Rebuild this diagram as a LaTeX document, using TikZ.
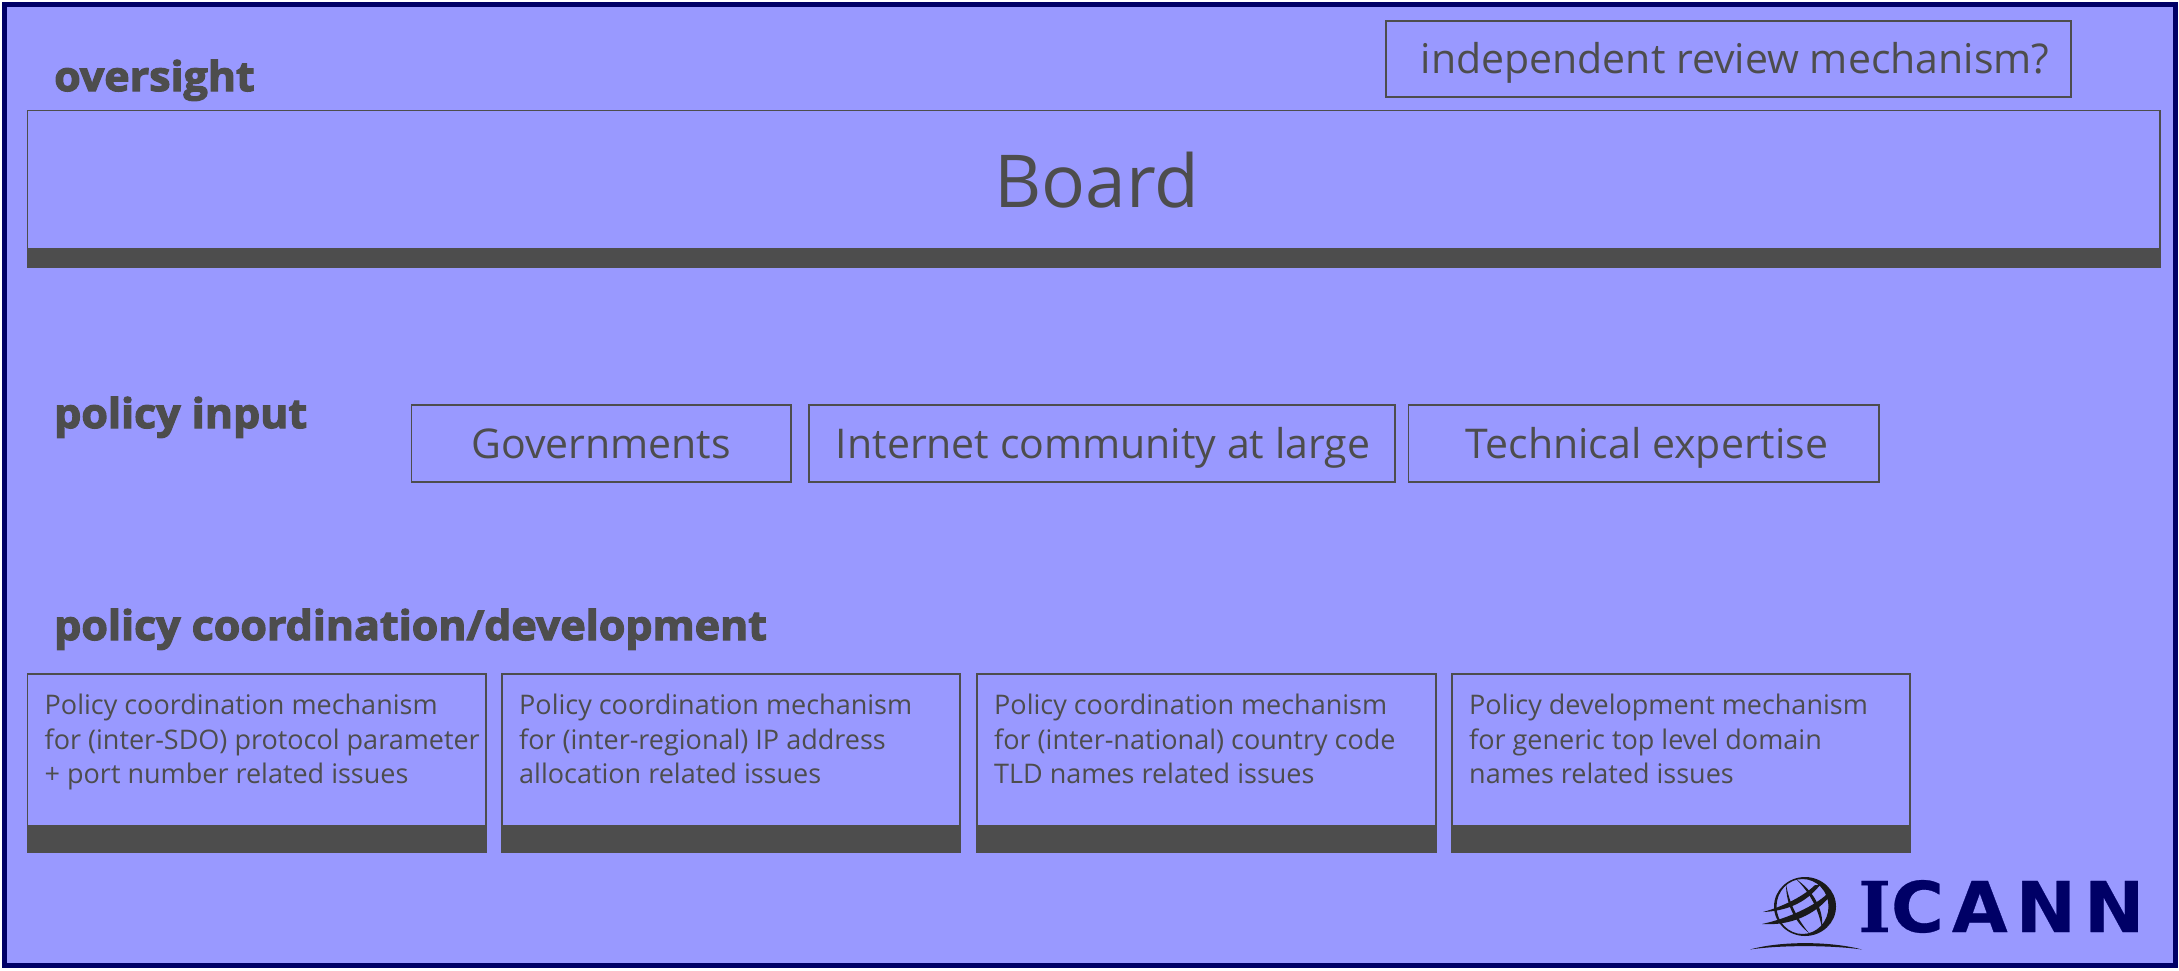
\documentclass[tikz,border=0pt]{standalone}
\usepackage{fontspec}
\setmainfont{Open Sans}
\newfontfamily\headfont{Open Sans}[BoldFeatures={FakeBold=3,FakeStretch=1.047}]
\newfontfamily\logofont{DejaVu Sans}[LetterSpace=11.5,BoldFeatures={FakeStretch=1.03,FakeBold=0.4}]
\newfontfamily\logoserif{DejaVu Serif}[BoldFeatures={FakeBold=0.4}]
\definecolor{bgblue}{HTML}{9999FF}
\definecolor{navyb}{HTML}{000066}
\definecolor{ink}{HTML}{4D4D4D}
\definecolor{globe}{HTML}{1A1A1A}
\tikzset{
 x=1pt,y=-1pt,
 box/.style={draw=ink,line width=1.1pt,fill=none},
 band/.style={fill=ink,draw=none},
 head/.style={anchor=base west,inner sep=0,font=\headfont\bfseries\fontsize{41}{41}\selectfont,text=ink},
 big/.style={inner sep=0,text=ink,anchor=base,font=\fontsize{41}{41}\selectfont},
 small/.style={anchor=north west,inner sep=0,text=ink,align=left,font=\fontsize{27}{34.5}\selectfont},
 glob/.style={fill=globe,draw=none}
}
\begin{document}
\begin{tikzpicture}
\useasboundingbox (0,0) rectangle (2179,970);
\fill[white] (0,0) rectangle (2179,970);
\draw[fill=bgblue,draw=navyb,line width=5pt] (4.5,4.5) rectangle (2175.5,965);
% headings
\node[head] (h1) at (54,91) {oversight};
\node[head] (h2) at (54,428) {policy input};
\node[head] (h3) at (54,640) {policy coordination/development};
% board
\fill[band] (27.5,248) rectangle (2160,267);
\draw[box] (27.5,110.5) rectangle (2160,267);
\node[inner sep=0,text=ink,anchor=center,font=\fontsize{73}{73}\selectfont] (board) at (1097,180) {Board};
\draw[box] (1386,21) rectangle (2071,97);
\node[big] (irm) at (1735,73) {independent review mechanism?};
% input
\draw[box] (411.5,405) rectangle (791,482);
\node[big] (gov) at (601,458) {Governments};
\draw[box] (809,405) rectangle (1395,482);
\node[big] (net) at (1103,458) {Internet community at large};
\draw[box] (1408.5,405) rectangle (1879,482);
\node[big] (tech) at (1647,458) {Technical expertise};
% mechanisms
\foreach \a/\b/\n/\t in {
27.5/486/m1/{Policy coordination mechanism\\for (inter-SDO) protocol parameter\\+ port number related issues},
502/960/m2/{Policy coordination mechanism\\for (inter-regional) IP address\\allocation related issues},
977/1436/m3/{Policy coordination mechanism\\for (inter-national) country code\\TLD names related issues},
1452/1910/m4/{Policy development mechanism\\for generic top level domain\\names related issues}}{
 \fill[band] (\a,825) rectangle (\b,852);
 \draw[box] (\a,674) rectangle (\b,852);
 \node[small] (\n) at (\a+17,694) {\t};
}
% logo globe
\fill[globe,even odd rule] (1805,906.5) ellipse[x radius=31,y radius=29.5]
  (1802.5,906.5) ellipse[x radius=26,y radius=27.5];
\fill[glob] (1786,884) .. controls (1786,905) and (1795,922) .. (1809,933)
  .. controls (1798,920) and (1789,903) .. (1786,884) -- cycle;
\fill[glob] (1796,879) .. controls (1810,893) and (1818,908) .. (1822,928)
  .. controls (1824,908) and (1812,890) .. (1796,879) -- cycle;
\fill[glob] (1763,912) .. controls (1785,911) and (1805,904) .. (1820,885)
  -- (1815,885) .. controls (1805,895) and (1785,906) .. (1763,912) -- cycle;
\fill[glob] (1762,924) .. controls (1790,926) and (1815,915) .. (1830,896)
  -- (1826,895) .. controls (1815,905) and (1790,918) .. (1762,924) -- cycle;
\fill[globe] (1750,949.5) .. controls (1780,941) and (1830,941) .. (1862,949.5) .. controls (1830,945) and (1780,945) .. (1750,949.5) -- cycle;
\node[anchor=base west,inner sep=0,text=navyb,font=\logofont\bfseries\fontsize{70}{70}\selectfont] (logo) at (1858,932) {{\logoserif\bfseries I}CANN};
\end{tikzpicture}
\end{document}
